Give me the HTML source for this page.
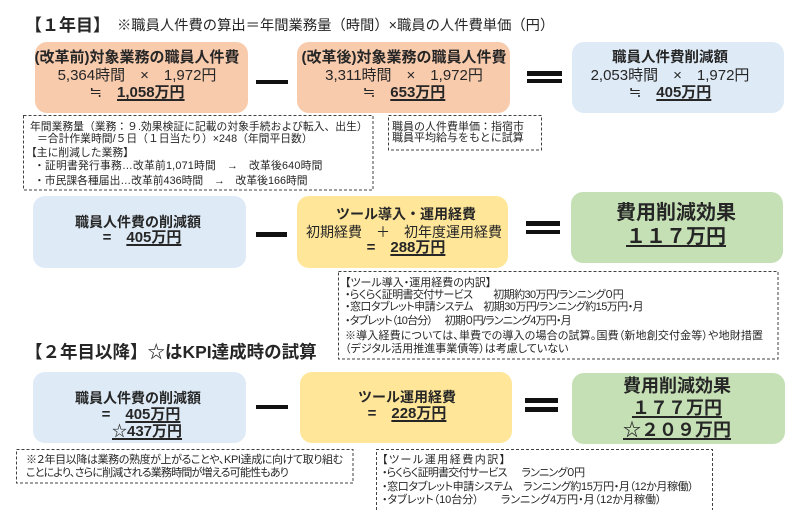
<!DOCTYPE html>
<html><head><meta charset="utf-8">
<style>
html,body{margin:0;padding:0;background:#fff;}
body{width:800px;height:527px;position:relative;overflow:hidden;font-family:"Liberation Sans","Noto Sans CJK JP",sans-serif;color:#262626;}
.box{position:absolute;border-radius:12px;}
.or{background:#F8CBAD;}
.bl{background:#DEEBF7;}
.ye{background:#FFE699;}
.gr{background:#C5E0B4;}
.bar{position:absolute;background:#111;}
.t{position:absolute;width:400px;text-align:center;white-space:nowrap;line-height:20px;height:20px;}
.lt{position:absolute;white-space:nowrap;line-height:14px;height:14px;font-size:11px;}
.p{font-feature-settings:"palt";}
.b{font-weight:bold;}
.u{text-decoration:underline;text-decoration-thickness:1.5px;text-underline-offset:1.5px;}
.u2{text-decoration:underline;text-decoration-thickness:2px;text-underline-offset:2px;}
svg{position:absolute;left:0;top:0;}
</style></head><body>

<svg width="800" height="527" viewBox="0 0 800 527">
<g fill="none" stroke="#404040" stroke-width="1" stroke-dasharray="3 2">
<rect x="23.5" y="115.5" width="349.5" height="74.5"/>
<rect x="388.5" y="115.5" width="153" height="34.5"/>
<rect x="338.5" y="271.5" width="439.5" height="87.5"/>
<rect x="16.5" y="449.5" width="336.5" height="33.5"/>
<path d="M376.5 510 V449.5 H712.5 V510"/>
</g>
</svg>

<!-- header -->
<div class="lt b" style="left:25px;top:16px;font-size:17px;line-height:20px;height:20px;">【１年目】</div>
<div class="lt" style="left:117px;top:16px;font-size:14.3px;line-height:20px;height:20px;">※職員人件費の算出＝年間業務量（時間）×職員の人件費単価（円）</div>

<!-- row 1 boxes -->
<div class="box or" style="left:35px;top:42px;width:213px;height:71px;"></div>
<div class="box or" style="left:297px;top:42px;width:213px;height:71px;"></div>
<div class="box bl" style="left:572px;top:42px;width:212px;height:71px;"></div>

<div class="t b" style="left:-63px;top:48px;font-size:15px;">(改革前)対象業務の職員人件費</div>
<div class="t" style="left:-63px;top:66px;font-size:15px;">5,364時間　×　1,972円</div>
<div class="t" style="left:-63px;top:83px;font-size:15px;">≒　<span class="b u">1,058万円</span></div>

<div class="t b" style="left:204px;top:48px;font-size:15px;">(改革後)対象業務の職員人件費</div>
<div class="t" style="left:204px;top:66px;font-size:15px;">3,311時間　×　1,972円</div>
<div class="t" style="left:204px;top:83px;font-size:15px;">≒　<span class="b u">653万円</span></div>

<div class="t b" style="left:470px;top:48px;font-size:14.5px;">職員人件費削減額</div>
<div class="t" style="left:470px;top:66px;font-size:15px;">2,053時間　×　1,972円</div>
<div class="t" style="left:470px;top:83px;font-size:15px;">≒　<span class="b u">405万円</span></div>

<div class="bar" style="left:256px;top:79.5px;width:32px;height:4.5px;"></div>
<div class="bar" style="left:527px;top:71px;width:35px;height:4.5px;"></div>
<div class="bar" style="left:527px;top:78.5px;width:35px;height:4.5px;"></div>

<!-- dashed box 1 -->
<div class="lt" style="left:30px;top:120px;font-size:10.8px;">年間業務量（業務：９.効果検証に記載の対象手続および転入、出生）</div>
<div class="lt" style="left:37px;top:131.5px;font-size:10.8px;">＝合計作業時間/５日（１日当たり）×248（年間平日数）</div>
<div class="lt" style="left:26px;top:145.5px;font-size:10.8px;">【主に削減した業務】</div>
<div class="lt" style="left:34px;top:159px;font-size:10.8px;letter-spacing:0.2px;">・証明書発行事務…改革前1,071時間　→　改革後640時間</div>
<div class="lt" style="left:34px;top:173.5px;font-size:10.8px;">・市民課各種届出…改革前436時間　→　改革後166時間</div>

<!-- dashed box 2 -->
<div class="lt" style="left:392px;top:120px;">職員の人件費単価：指宿市</div>
<div class="lt" style="left:392px;top:131px;">職員平均給与をもとに試算</div>

<!-- row 2 -->
<div class="box bl" style="left:33px;top:196px;width:213px;height:72px;"></div>
<div class="box ye" style="left:297px;top:196px;width:211px;height:72px;"></div>
<div class="box gr" style="left:571px;top:192px;width:212px;height:71px;"></div>

<div class="t b" style="left:-62px;top:212px;font-size:14px;">職員人件費の削減額</div>
<div class="t b" style="left:-58px;top:228px;font-size:15px;">=　<span class="u">405万円</span></div>

<div class="t b" style="left:206px;top:204px;font-size:14px;">ツール導入・運用経費</div>
<div class="t" style="left:204px;top:222px;font-size:14px;">初期経費　＋　初年度運用経費</div>
<div class="t b" style="left:206px;top:238px;font-size:15px;">=　<span class="u">288万円</span></div>

<div class="t b" style="left:476px;top:203px;font-size:20px;line-height:20px;">費用削減効果</div>
<div class="t b" style="left:476px;top:227px;font-size:20px;line-height:20px;"><span class="u2">１１７万円</span></div>

<div class="bar" style="left:256px;top:232px;width:31px;height:4.5px;"></div>
<div class="bar" style="left:526px;top:221px;width:34px;height:4.5px;"></div>
<div class="bar" style="left:526px;top:229.5px;width:34px;height:4.5px;"></div>

<!-- dashed box 3 -->
<div class="lt p" style="left:345px;top:276px;">【ツール導入・運用経費の内訳】</div>
<div class="lt p" style="left:345px;top:287.5px;letter-spacing:-0.6px;">・らくらく証明書交付サービス　　初期約30万円/ランニング０円</div>
<div class="lt p" style="left:345px;top:300px;letter-spacing:-0.55px;">・窓口タブレット申請システム　初期30万円/ランニング約15万円・月</div>
<div class="lt p" style="left:345px;top:314px;letter-spacing:-0.8px;">・タブレット（10台分）　&nbsp;初期０円/ランニング4万円・月</div>
<div class="lt p" style="left:345px;top:329px;letter-spacing:0.15px;">※導入経費については、単費での導入の場合の試算。国費（新地創交付金等）や地財措置</div>
<div class="lt p" style="left:345px;top:342px;">（デジタル活用推進事業債等）は考慮していない</div>

<!-- title 2 -->
<div class="lt b" style="left:25px;top:342px;font-size:17.5px;line-height:20px;height:20px;">【２年目以降】☆はKPI達成時の試算</div>

<!-- row 3 -->
<div class="box bl" style="left:33px;top:372px;width:213px;height:71px;"></div>
<div class="box ye" style="left:300px;top:372px;width:212px;height:71px;"></div>
<div class="box gr" style="left:572px;top:373px;width:213px;height:71px;"></div>

<div class="t b" style="left:-62px;top:388px;font-size:14px;">職員人件費の削減額</div>
<div class="t b" style="left:-59px;top:405px;font-size:15px;">=　<span class="u">405万円</span></div>
<div class="t b" style="left:-53px;top:422px;font-size:15px;"><span class="u">☆437万円</span></div>

<div class="t b" style="left:207px;top:387px;font-size:14px;">ツール運用経費</div>
<div class="t b" style="left:207px;top:404px;font-size:15px;">=　<span class="u">228万円</span></div>

<div class="t b" style="left:477px;top:376px;font-size:18px;">費用削減効果</div>
<div class="t b" style="left:477px;top:398px;font-size:18px;"><span class="u2">１７７万円</span></div>
<div class="t b" style="left:477px;top:420px;font-size:18px;"><span class="u2">☆２０９万円</span></div>

<div class="bar" style="left:256px;top:404.5px;width:32px;height:4.5px;"></div>
<div class="bar" style="left:525px;top:398px;width:33px;height:4.5px;"></div>
<div class="bar" style="left:525px;top:407px;width:33px;height:4.5px;"></div>

<!-- dashed box 4 -->
<div class="lt p" style="left:26px;top:453px;letter-spacing:-0.4px;">※２年目以降は業務の熟度が上がることや、KPI達成に向けて取り組む</div>
<div class="lt p" style="left:26px;top:466px;letter-spacing:-0.8px;">ことにより、さらに削減される業務時間が増える可能性もあり</div>

<!-- dashed box 5 -->
<div class="lt p" style="left:382px;top:453px;letter-spacing:1.5px;">【ツール運用経費内訳】</div>
<div class="lt p" style="left:382px;top:466px;letter-spacing:-0.8px;">・らくらく証明書交付サービス　&nbsp;&nbsp;ランニング０円</div>
<div class="lt p" style="left:382px;top:480px;letter-spacing:-0.37px;">・窓口タブレット申請システム　ランニング約15万円・月（12か月稼働）</div>
<div class="lt p" style="left:382px;top:493px;">・タブレット（10台分）　　ランニング4万円・月（12か月稼働）</div>

</body></html>
